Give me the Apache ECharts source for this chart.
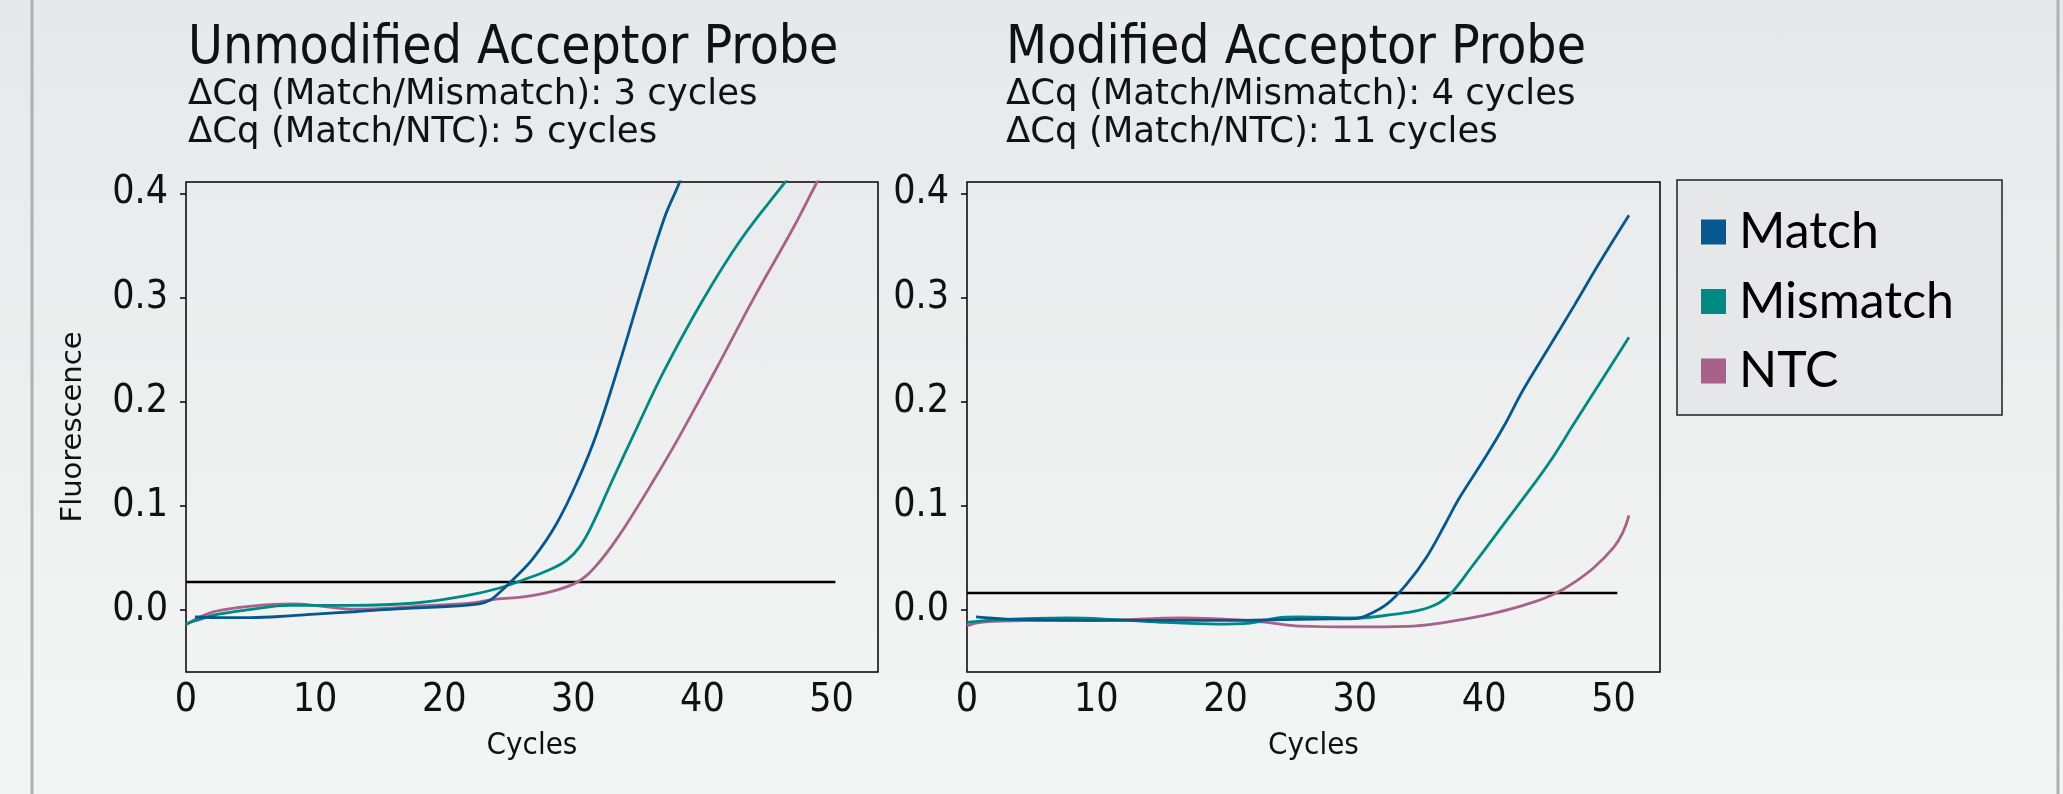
<!DOCTYPE html>
<html>
<head>
<meta charset="utf-8">
<title>Acceptor Probe</title>
<script src="https://cdn.jsdelivr.net/npm/echarts@6/dist/echarts.min.js"></script>
<style>
    html, body { margin: 0; padding: 0; }
    #e1 {
        width: 2063px;
        height: 794px;
        background: linear-gradient(to bottom, #e7e8ea 0%, #eeefef 55%, #f4f5f5 100%);
    }
</style>
</head>
<body>
<div id="e1"></div>
<script>
// [cycle, fluorescence]
var leftMatch = [[0.7,-0.0065],[3,-0.0072],[5,-0.0071],[8,-0.0055],[10,-0.0038],[13,-0.0015],[15,0.0003],[18,0.0022],[20.5,0.0038],[22.7,0.006],[23.6,0.010],[24.2,0.016],[25.3,0.029],[26.9,0.050],[28.7,0.083],[30.4,0.126],[31.8,0.169],[33.6,0.238],[35.3,0.308],[37.1,0.378],[38.2,0.41],[39,0.44]];
var leftMismatch = [[0,-0.013],[1,-0.009],[2.3,-0.0043],[4.9,0.0005],[8,0.0046],[12.7,0.0046],[17.8,0.0069],[21.7,0.0139],[24.3,0.0213],[26.1,0.029],[28.2,0.039],[29.5,0.048],[30.5,0.061],[31.5,0.083],[33,0.124],[35,0.177],[37,0.229],[40,0.297],[43,0.356],[46.3,0.409],[47.2,0.423]];
var leftNTC = [[0,-0.014],[1,-0.007],[2.3,-0.001],[4.9,0.0037],[8.3,0.006],[10.6,0.0037],[12.7,0.001],[15,0.0015],[17.8,0.0037],[22.2,0.0069],[24,0.0107],[26.1,0.0127],[28.2,0.0175],[30,0.025],[31,0.033],[32,0.046],[33,0.062],[34,0.080],[36,0.120],[38,0.162],[41,0.230],[44,0.300],[47,0.366],[48.8,0.409],[49.6,0.428]];
var rightMatch = [[0.7,-0.0065],[3,-0.0085],[5.1,-0.0091],[10.2,-0.0098],[15.4,-0.0098],[20.6,-0.0098],[24.4,-0.009],[27,-0.0085],[30,-0.008],[31,-0.0045],[32.5,0.006],[34,0.025],[35.5,0.050],[37,0.083],[38,0.106],[40,0.145],[41.5,0.176],[43,0.211],[45,0.252],[47,0.293],[49,0.335],[51.2,0.379]];
var rightMismatch = [[0,-0.0117],[2.6,-0.009],[7.7,-0.0075],[11.5,-0.009],[15.4,-0.0117],[19.3,-0.0133],[21.9,-0.0123],[23.9,-0.0075],[25.7,-0.0065],[30,-0.0075],[33,-0.004],[35,0.0],[36.5,0.007],[37.5,0.017],[39,0.041],[41,0.074],[43,0.107],[45,0.141],[47,0.180],[49,0.219],[51.2,0.262]];
var rightNTC = [[0,-0.0149],[1.2,-0.0113],[5.1,-0.010],[10.2,-0.0098],[16.7,-0.0075],[20.6,-0.009],[23.2,-0.0117],[25.7,-0.0152],[30,-0.016],[34,-0.0155],[37,-0.0116],[40,-0.005],[42,0.001],[44,0.0085],[45.5,0.016],[47,0.027],[48.5,0.041],[50,0.060],[50.7,0.074],[51.2,0.091]];
var leftThreshold = [[0,0.027],[50.3,0.027]];
var rightThreshold = [[0,0.0165],[50.3,0.0165]];
var xTicks = [0, 10, 20, 30, 40, 50];
var yTicks = [0, 0.1, 0.2, 0.3, 0.4];
var seriesNames = ['Match', 'Mismatch', 'NTC'];

var e1 = echarts.init(document.getElementById('e1'));
var colors = ['#06578f', '#008884', '#a8618a'];
var numFont = 'DejaVu Sans Condensed';

function makeX(idx) {
    return {
        type: 'value', gridIndex: idx, min: 0, max: 53.6,
        name: 'Cycles', nameLocation: 'middle', nameGap: 58,
        nameTextStyle: {fontFamily: numFont, fontSize: 31, color: '#111'},
        axisLine: {show: false},
        axisTick: {show: false},
        splitLine: {show: false},
        axisLabel: {customValues: xTicks, margin: 9, fontFamily: numFont, fontSize: 39, color: '#111'}
    };
}
function makeY(idx) {
    var y = {
        type: 'value', gridIndex: idx, min: -0.0593, max: 0.4109,
        axisLine: {show: false},
        splitLine: {show: false},
        axisTick: {show: true, customValues: yTicks, length: 6, lineStyle: {color: '#000', width: 1.5}},
        axisLabel: {
            customValues: yTicks, margin: 18, fontFamily: numFont, fontSize: 39, color: '#111',
            formatter: function (v) { return v.toFixed(1); }
        }
    };
    if (idx == 0) {
        y.name = 'Fluorescence';
        y.nameLocation = 'middle';
        y.nameGap = 98;
        y.nameTextStyle = {fontFamily: 'DejaVu Sans', fontSize: 29, color: '#111'};
    }
    return y;
}
function curve(name, data, idx, ci) {
    return {
        name: name, type: 'line', data: data, xAxisIndex: idx, yAxisIndex: idx,
        smooth: 0.4, symbol: 'none', clip: true,
        lineStyle: {color: colors[ci], width: 2.8}, itemStyle: {color: colors[ci]}
    };
}
function threshold(data, idx) {
    return {
        name: 'threshold' + idx, type: 'line', data: data, xAxisIndex: idx, yAxisIndex: idx,
        symbol: 'none', silent: true, z: 1,
        lineStyle: {color: '#000', width: 2.5}
    };
}

var option1 = {
    animation: false,
    title: [{
        text: 'Unmodified Acceptor Probe',
        subtext: 'ΔCq (Match/Mismatch): 3 cycles\nΔCq (Match/NTC): 5 cycles',
        left: 188, top: 23, itemGap: 0, padding: 0,
        textStyle: {fontFamily: numFont, fontSize: 53, fontWeight: 'normal', color: '#111', lineHeight: 53},
        subtextStyle: {fontFamily: 'DejaVu Sans', fontSize: 35.5, color: '#111', lineHeight: 38}
    }, {
        text: 'Modified Acceptor Probe',
        subtext: 'ΔCq (Match/Mismatch): 4 cycles\nΔCq (Match/NTC): 11 cycles',
        left: 1006, top: 23, itemGap: 0, padding: 0,
        textStyle: {fontFamily: numFont, fontSize: 53, fontWeight: 'normal', color: '#111', lineHeight: 53},
        subtextStyle: {fontFamily: 'DejaVu Sans', fontSize: 35.5, color: '#111', lineHeight: 38}
    }],
    legend: {
        data: seriesNames, orient: 'vertical', left: 1701, top: 205, padding: 0,
        icon: 'rect', itemWidth: 25, itemHeight: 25, itemGap: 15.5,
        selectedMode: false,
        textStyle: {fontFamily: 'Lato', fontSize: 50, color: '#000', lineHeight: 50, padding: [4, 0, 0, 8]}
    },
    graphic: [
        {type: 'rect', z: -1, shape: {x: 1677, y: 180, width: 325, height: 235},
            style: {fill: '#e6e7e9', stroke: '#222', lineWidth: 1.5}},
        {type: 'line', shape: {x1: 32, y1: 0, x2: 32, y2: 794}, style: {stroke: '#b0b0b0', lineWidth: 3}},
        {type: 'line', shape: {x1: 2058, y1: 0, x2: 2058, y2: 794}, style: {stroke: '#b0b0b0', lineWidth: 3}}
    ],
    grid: [
        {left: 186, top: 182, width: 692, height: 490, show: true, borderColor: '#000', borderWidth: 1.5, backgroundColor: 'transparent'},
        {left: 967, top: 182, width: 693, height: 490, show: true, borderColor: '#000', borderWidth: 1.5, backgroundColor: 'transparent'}
    ],
    xAxis: [makeX(0), makeX(1)],
    yAxis: [makeY(0), makeY(1)],
    series: [
        threshold(leftThreshold, 0),
        curve('NTC', leftNTC, 0, 2),
        curve('Mismatch', leftMismatch, 0, 1),
        curve('Match', leftMatch, 0, 0),
        threshold(rightThreshold, 1),
        curve('NTC', rightNTC, 1, 2),
        curve('Mismatch', rightMismatch, 1, 1),
        curve('Match', rightMatch, 1, 0)
    ]
};
e1.setOption(option1);
</script>
</body>
</html>
